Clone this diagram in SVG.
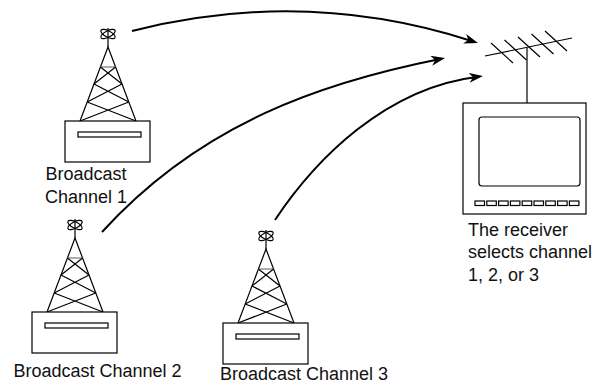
<svg xmlns="http://www.w3.org/2000/svg" xmlns:xlink="http://www.w3.org/1999/xlink" width="598" height="384" viewBox="0 0 598 384">
  <style>
    .ln { fill: none; stroke: #000; stroke-width: 1.2; }
    .box { fill: #fff; stroke: #000; stroke-width: 1.2; }
    .bar { fill: none; stroke: #777; stroke-width: 1.2; }
    .wire { fill: none; stroke: #000; stroke-width: 2; }
    .lbl { font-family: "Liberation Sans", Arial, Helvetica, sans-serif; font-size: 18px; fill: #111; }
  </style>
  <defs>
    <marker id="head" markerUnits="userSpaceOnUse" viewBox="0 0 14 10" markerWidth="14" markerHeight="10" refX="9" refY="5" orient="auto">
      <path d="M0,0 L14,5 L0,10 L4,5 Z" fill="#000"/>
    </marker>
    <!-- transmitter tower with its base cabinet; origin at the cabinet's top-left corner -->
    <g id="tower">
      <line class="ln" x1="43" y1="-93" x2="43" y2="-74"/>
      <ellipse class="ln" cx="43" cy="-87" rx="8" ry="3.2" transform="rotate(28 43 -87)"/>
      <ellipse class="ln" cx="43" cy="-87" rx="8" ry="3.2" transform="rotate(-28 43 -87)"/>
      <path class="ln" d="M15,0 L43,-74 L71,0"/>
      <line class="bar" x1="35.4" y1="-54" x2="50.6" y2="-54"/>
      <path class="ln" d="M35.4,-54 L57,-37 M50.6,-54 L29,-37 M29,-37 L63.8,-19 M57,-37 L22.2,-19 M22.2,-19 L71,0 M63.8,-19 L15,0"/>
      <rect class="box" x="0" y="0" width="85" height="41"/>
      <rect class="box" x="13" y="11" width="63" height="5"/>
    </g>
  </defs>

  <g id="connectors">
    <path class="wire" d="M132,31 Q305,-13 473.2,41.5" marker-end="url(#head)"/>
    <path class="wire" d="M102,232 C202,122 325,82 440.1,59" marker-end="url(#head)"/>
    <path class="wire" d="M275,220 C315,160 385,88 478,76.7" marker-end="url(#head)"/>
  </g>

  <g id="channel1">
    <use xlink:href="#tower" transform="translate(65,121)"/>
    <text class="lbl" x="86" y="180" text-anchor="middle">Broadcast</text>
    <text class="lbl" x="86" y="203" text-anchor="middle">Channel 1</text>
  </g>

  <g id="channel2">
    <use xlink:href="#tower" transform="translate(32,312)"/>
    <text class="lbl" x="97.5" y="377" text-anchor="middle">Broadcast Channel 2</text>
  </g>

  <g id="channel3">
    <use xlink:href="#tower" transform="translate(223,323)"/>
    <text class="lbl" x="304" y="380" text-anchor="middle">Broadcast Channel 3</text>
  </g>

  <g id="receiver">
    <!-- roof antenna: boom, five elements, mast -->
    <line class="ln" x1="485" y1="56" x2="572" y2="38"/>
    <path class="ln" d="M491,43 L513,63 M504.5,40 L526.5,60 M518,37 L540,57 M531.5,34 L553.5,54 M545,31 L567,51"/>
    <line class="ln" x1="527" y1="48" x2="527" y2="103"/>
    <!-- television set -->
    <rect class="box" x="463" y="103" width="123" height="111"/>
    <rect class="box" x="479" y="117" width="101" height="69" rx="3"/>
    <g>
      <rect class="box" x="475" y="201" width="9.5" height="4.5"/>
      <rect class="box" x="486.8" y="201" width="9.5" height="4.5"/>
      <rect class="box" x="498.6" y="201" width="9.5" height="4.5"/>
      <rect class="box" x="510.4" y="201" width="9.5" height="4.5"/>
      <rect class="box" x="522.2" y="201" width="9.5" height="4.5"/>
      <rect class="box" x="534" y="201" width="9.5" height="4.5"/>
      <rect class="box" x="545.8" y="201" width="9.5" height="4.5"/>
      <rect class="box" x="557.6" y="201" width="9.5" height="4.5"/>
      <rect class="box" x="569.4" y="201" width="9.5" height="4.5"/>
    </g>
    <text class="lbl" x="468" y="236">The receiver</text>
    <text class="lbl" x="468" y="258">selects channel</text>
    <text class="lbl" x="468" y="281">1, 2, or 3</text>
  </g>
</svg>
